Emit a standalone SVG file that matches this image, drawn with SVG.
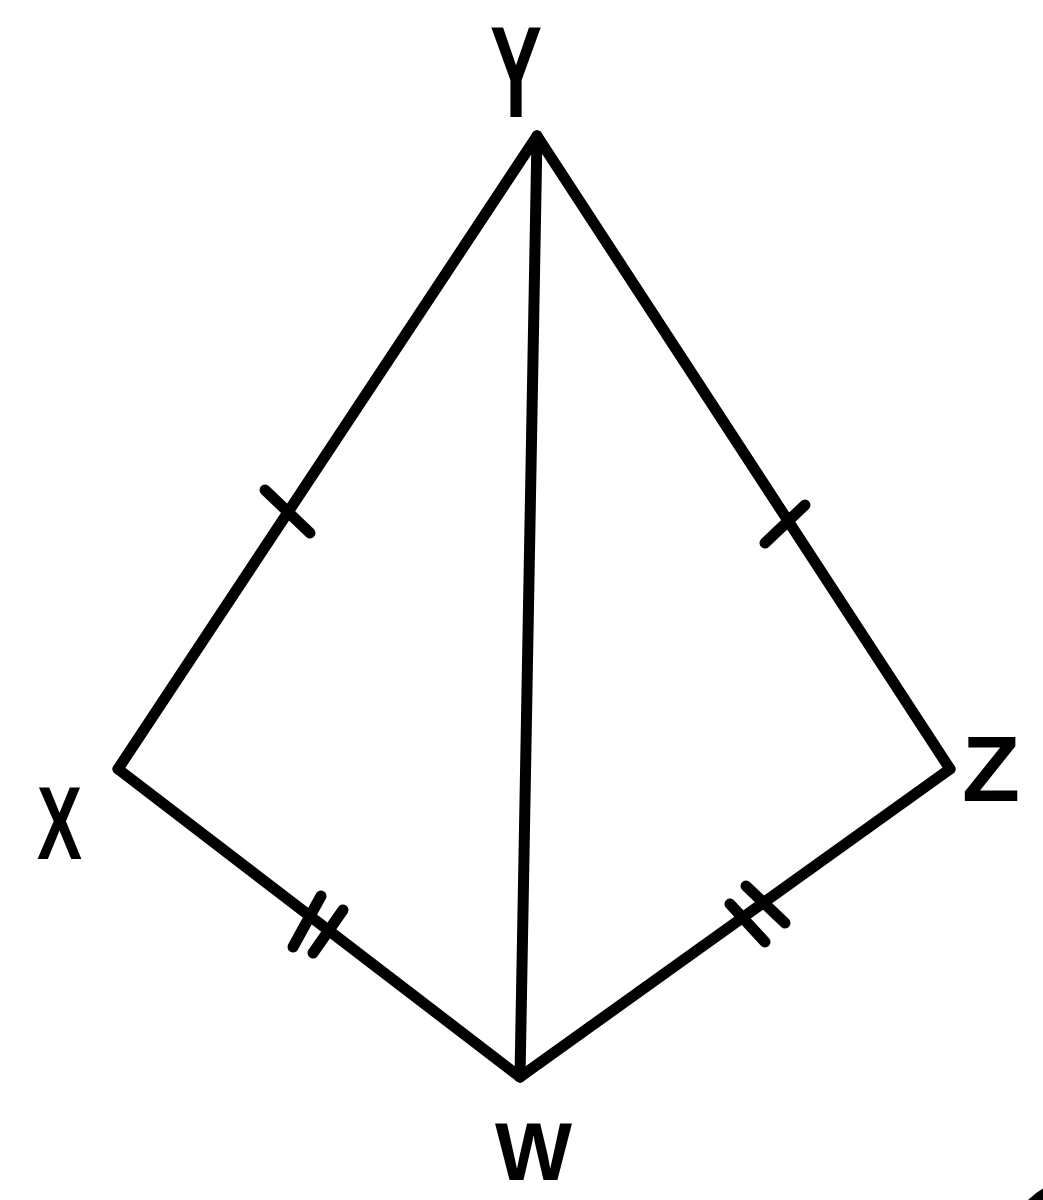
<svg xmlns="http://www.w3.org/2000/svg" width="1043" height="1200" viewBox="0 0 1043 1200">
<style>
.edge{stroke:#000;stroke-width:11;stroke-linecap:round;stroke-linejoin:round;fill:none}
.tick{stroke:#000;stroke-width:11;stroke-linecap:round;fill:none}
.lbl{font-family:"Liberation Sans",Arial,sans-serif;font-weight:bold;fill:#000}
</style>
<rect width="1043" height="1200" fill="#fff"/>
<g id="connectors">
<line class="edge" x1="537" y1="136" x2="118" y2="769"/>
<line class="edge" x1="537" y1="136" x2="950" y2="769"/>
<line class="edge" x1="118" y1="769" x2="520" y2="1077"/>
<line class="edge" x1="950" y1="769" x2="520" y2="1077"/>
<line class="edge" x1="537" y1="136" x2="520" y2="1077"/>
<g id="ticks">
<line class="tick" x1="265" y1="490" x2="310" y2="533"/>
<line class="tick" x1="765" y1="543" x2="805" y2="505"/>
<line class="tick" x1="293" y1="947" x2="321" y2="896"/>
<line class="tick" x1="313" y1="953" x2="343" y2="910"/>
<line class="tick" x1="730" y1="904" x2="765" y2="942"/>
<line class="tick" x1="746" y1="886" x2="785" y2="923"/>
</g>
</g>
<g id="node-Y"><text class="lbl" x="490" y="117" font-size="130" textLength="52" lengthAdjust="spacingAndGlyphs">Y</text></g>
<g id="node-X"><text class="lbl" x="37" y="859" font-size="104" textLength="45" lengthAdjust="spacingAndGlyphs">X</text></g>
<g id="node-Z"><text class="lbl" x="962" y="801" font-size="92" textLength="58" lengthAdjust="spacingAndGlyphs">Z</text></g>
<g id="node-W"><text class="lbl" x="495" y="1180" font-size="82" textLength="77" lengthAdjust="spacingAndGlyphs">W</text></g>
<circle cx="1075" cy="1245" r="65" fill="#000"/>
</svg>
